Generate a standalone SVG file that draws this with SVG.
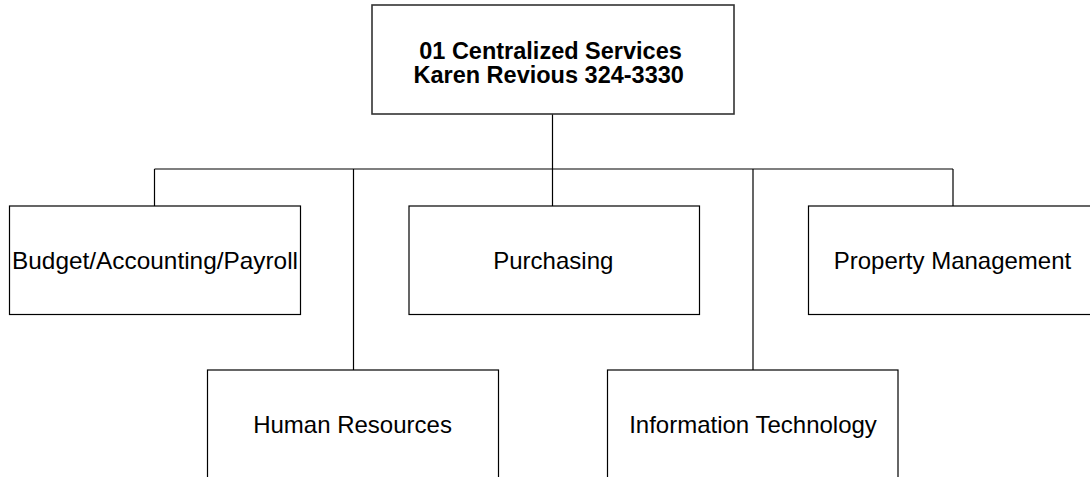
<svg xmlns="http://www.w3.org/2000/svg" width="1090" height="477" viewBox="0 0 1090 477">
<style>
.box{fill:#fff;stroke:#000;stroke-width:1.2}
.top{fill:#fff;stroke:#333;stroke-width:1.6}
.t{font-family:"Liberation Sans",Arial,sans-serif;font-size:24px;fill:#000;text-anchor:middle}
.b{font-weight:bold;font-size:23.5px}
.c{fill:none;stroke:#000;stroke-width:1.2}
</style>
<rect width="1090" height="477" fill="#fff"/>
<g id="connectors">
<path class="c" d="M552.5 114V169M154.5 169H953M154.5 169V206M353.5 169V370M552.5 169V206M753 169V370M953 169V206"/>
</g>
<g id="n-top">
<rect class="top" x="372" y="5" width="362" height="109"/>
<text class="t b" x="550.5" y="58.5">01 Centralized Services</text>
<text class="t b" x="548.7" y="83">Karen Revious 324-3330</text>
</g>
<g id="n-budget">
<rect class="box" x="9.5" y="206" width="291" height="108.5"/>
<text class="t" x="155" y="269.3" textLength="286" lengthAdjust="spacingAndGlyphs">Budget/Accounting/Payroll</text>
</g>
<g id="n-purchasing">
<rect class="box" x="409" y="206" width="290.5" height="108.5"/>
<text class="t" x="553.3" y="269.3">Purchasing</text>
</g>
<g id="n-property">
<rect class="box" x="808.5" y="206" width="291" height="108.5"/>
<text class="t" x="952.5" y="269.3">Property Management</text>
</g>
<g id="n-hr">
<rect class="box" x="207.5" y="370" width="291" height="120"/>
<text class="t" x="352.5" y="433.3">Human Resources</text>
</g>
<g id="n-it">
<rect class="box" x="607.5" y="370" width="290.5" height="120"/>
<text class="t" x="753" y="433.3">Information Technology</text>
</g>
</svg>
